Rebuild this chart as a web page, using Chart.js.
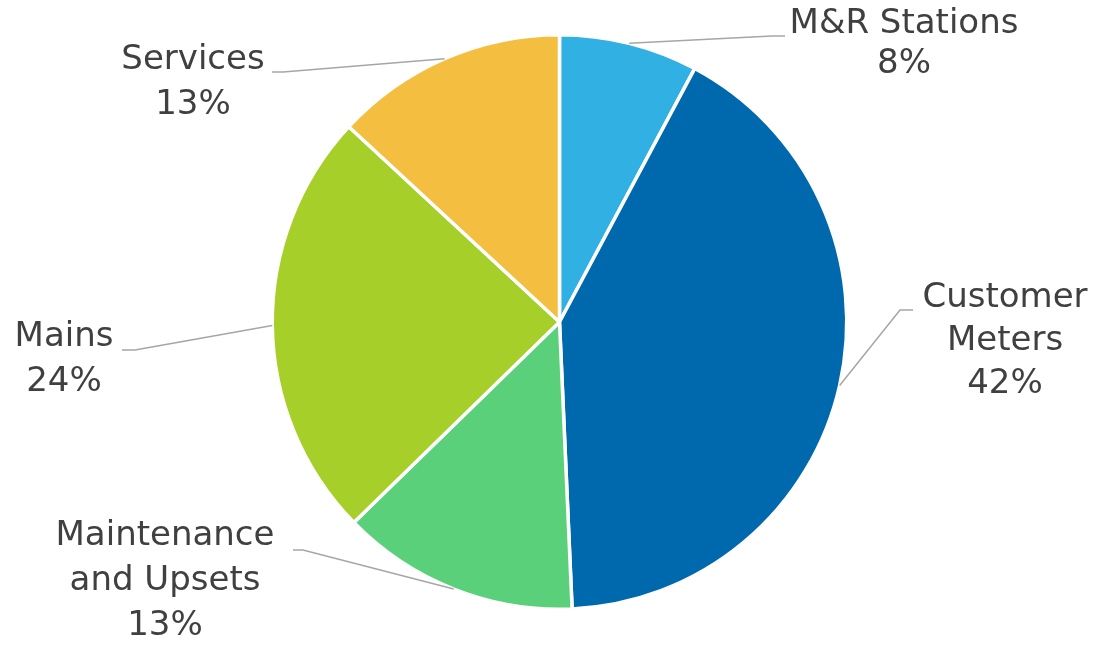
<!DOCTYPE html>
<html>
<head>
<meta charset="utf-8">
<script src="https://cdn.jsdelivr.net/npm/chart.js@4"></script>
<style>
  html, body { margin: 0; padding: 0; background: #fff; }
  #wrap { width: 1097px; height: 647px; }
</style>
</head>
<body>
<div id="wrap"><canvas id="pieChart"></canvas></div>
<script>
const categories = [['M&R Stations'], ['Customer', 'Meters'], ['Maintenance', 'and Upsets'], ['Mains'], ['Services']];
const values = [7.8, 41.5, 13.4, 24.2, 13.1];
const colors = ['#31B0E3', '#0068AD', '#5BD07A', '#A6CF2A', '#F4BF40'];

// label placement (text centre x, first line middle y) and leader line stubs
const labelX = [904, 1005, 165, 64, 193];
const labelY = [24, 298, 536, 337, 60];
const lineGap = [40, 43, 45, 45, 45];
const leaderElbow = [[772, 36], [900, 310], [303, 550], [135, 350], [283, 72]];
const leaderEnd = [[785, 36], [913, 310], [293, 550], [122, 350], [272, 72]];

const outsideLabels = {
    id: 'outsideLabels',
    afterDatasetsDraw(chart) {
        const ctx = chart.ctx;
        const arcs = chart.getDatasetMeta(0).data;
        const total = values.reduce((a, b) => a + b, 0);
        ctx.save();
        arcs.forEach((arc, i) => {
            const mid = (arc.startAngle + arc.endAngle) / 2;
            const sx = arc.x + Math.cos(mid) * arc.outerRadius;
            const sy = arc.y + Math.sin(mid) * arc.outerRadius;
            ctx.strokeStyle = '#A6A6A6';
            ctx.lineWidth = 1.5;
            ctx.beginPath();
            ctx.moveTo(sx, sy);
            ctx.lineTo(leaderElbow[i][0], leaderElbow[i][1]);
            ctx.lineTo(leaderEnd[i][0], leaderEnd[i][1]);
            ctx.stroke();

            const lines = categories[i].concat([Math.round(values[i] / total * 100) + '%']);
            ctx.fillStyle = '#404040';
            ctx.font = '34px "DejaVu Sans"';
            ctx.textAlign = 'center';
            ctx.textBaseline = 'middle';
            lines.forEach((t, j) => {
                ctx.fillText(t, labelX[i], labelY[i] + j * lineGap[i]);
            });
        });
        ctx.restore();
    }
};

const ctx = document.getElementById('pieChart').getContext('2d');
new Chart(ctx, {
    type: 'pie',
    data: {
        labels: categories,
        datasets: [{
            data: values,
            backgroundColor: colors,
            borderColor: '#ffffff',
            borderWidth: 3.5
        }]
    },
    options: {
        responsive: true,
        maintainAspectRatio: false,
        animation: false,
        layout: { padding: { left: 270, right: 248, top: 33, bottom: 36 } },
        plugins: {
            legend: { display: false },
            tooltip: { enabled: false }
        }
    },
    plugins: [outsideLabels]
});
</script>
</body>
</html>
